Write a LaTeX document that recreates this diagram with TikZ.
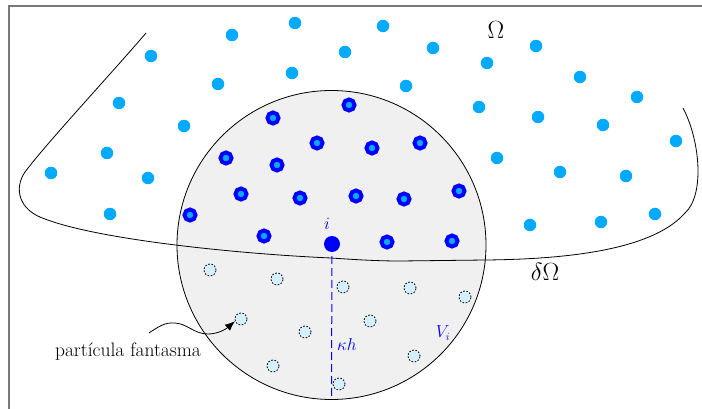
\documentclass[tikz,border=0pt]{standalone}
\usetikzlibrary{arrows.meta}
\definecolor{fluidc}{RGB}{0,170,255}
\definecolor{ringc}{RGB}{0,0,255}
\definecolor{ghostc}{RGB}{212,240,255}
\definecolor{areac}{RGB}{240,240,240}
\definecolor{framec}{RGB}{120,120,120}
\tikzset{
  fluid/.style={circle, fill=fluidc, inner sep=0pt, minimum size=12.5pt},
  neigh/.style={circle, fill=fluidc, draw=ringc, line width=4pt, inner sep=0pt, minimum size=11pt},
  ghost/.style={circle, fill=ghostc, draw=black, line width=0.8pt, dash pattern=on 1.6pt off 1.6pt, inner sep=0pt, minimum size=12pt},
  bluelbl/.style={text=ringc, inner sep=0pt, font=\fontsize{16}{18}\selectfont},
  biglbl/.style={inner sep=0pt, font=\fontsize{28}{30}\selectfont},
}
\begin{document}
\begin{tikzpicture}[x=1pt,y=-1pt]
\useasboundingbox (0,0) rectangle (702,409);
% frame
\draw[framec, line width=1.2pt] (9,409) -- (9,6) -- (702,6);
% support domain
\node[circle, fill=areac, draw=black, line width=0.8pt, inner sep=0pt, minimum size=309pt] (V) at (331.5,245) {};
% boundary
\draw[black, line width=0.8pt]
  (146,33) .. controls (110,75) and (45,145) .. (25,172)
  .. controls (14,188) and (18,210) .. (45,219)
  .. controls (100,240) and (240,254) .. (331,258)
  .. controls (360,260) and (380,261) .. (400,261)
  -- (486,260)
  .. controls (580,259) and (655,247) .. (685,213)
  .. controls (705,195) and (700,140) .. (683,108);
% fluid particles outside
\foreach \x/\y [count=\k] in {232/35,295/23,383/26,151/56,345/52,433/48,536/46,487/63,292/73,218/84,406/86,580/77,637/97,119/103,184/126,479/107,538/117,603/125,676/141,107/153,51/173,148/178,497/158,560/172,626/176,110/214,530/225,601/222,655/214}
  \node[fluid] (f\k) at (\x,\y) {};
% neighbour particles
\foreach \x/\y [count=\k] in {349/105,273/118,317/143,372/148,420/143,226/158,277/165,241/194,300/198,356/196,404/199,459/191,264/236,387/242,452/241,190/215}
  \node[neigh] (n\k) at (\x,\y) {};
% ghost particles
\foreach \x/\y [count=\k] in {210/270,277/279,343/287,410/288,465/297,241/319,305/332,370/321,414/356,273/366,339/384}
  \node[ghost] (g\k) at (\x,\y) {};
% particle i
\node[circle, fill=ringc, inner sep=0pt, minimum size=16pt] (i) at (332,244) {};
\draw[ringc, line width=1pt, dash pattern=on 8pt off 4pt] (i.center) -- (V.south);
% labels
\node[bluelbl] (li) at (327,224) {$i$};
\node[bluelbl, anchor=west] (lkh) at (337,344) {$\kappa h$};
\node[bluelbl] (lv) at (443,333) {$V_i$};
\node[biglbl] (lom) at (496,30) {$\Omega$};
\node[biglbl] (ldom) at (545,272) {$\delta\Omega$};
\node[inner sep=0pt, font=\fontsize{19.5}{22}\selectfont] (lg) at (128,352) {partícula fantasma};
\coordinate (a0) at (149,333);
\draw[black, line width=0.8pt, -{Latex[length=10pt,width=8pt]}] (a0) .. controls (158,327) and (165,322) .. (175,323) .. controls (188,324) and (194,334) .. (208,334) .. controls (218,334) and (226,329) .. (g6.200);
\end{tikzpicture}
\end{document}
